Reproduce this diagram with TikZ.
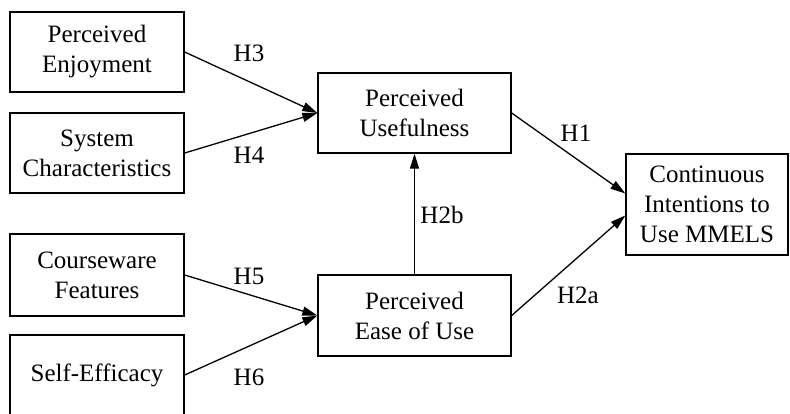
\documentclass[tikz,border=0pt]{standalone}
\usepackage{fontspec}
\setmainfont{Liberation Serif}
\usepackage{tikz}
\usetikzlibrary{arrows.meta}

\tikzset{
  factor/.style={draw, line width=1.3pt, align=center, inner sep=0pt},
  hyp/.style={line width=1.3pt, -{Triangle[length=15pt,width=9pt]}},
  hlabel/.style={inner sep=0pt}
}

\begin{document}
\begin{tikzpicture}[x=1pt,y=-1pt,font=\fontsize{25}{30}\selectfont]
\useasboundingbox (0,0) rectangle (790,413);
% left column
\node [factor, minimum width=174pt, minimum height=80pt] (enjoy) at (97,52) {Perceived\\Enjoyment};
\node [factor, minimum width=174pt, minimum height=80pt] (syst) at (97,153) {System\\Characteristics};
\node [factor, minimum width=174pt, minimum height=82pt] (course) at (97,275) {Courseware\\Features};
\node [factor, minimum width=174pt, minimum height=80pt] (selfeff) at (97,375) {Self-Efficacy};
% middle column
\node [factor, minimum width=193pt, minimum height=80pt] (useful) at (414.5,113) {Perceived\\Usefulness};
\node [factor, minimum width=193pt, minimum height=81pt] (ease) at (414.5,315.5) {Perceived\\Ease of Use};
% outcome
\node [factor, minimum width=162pt, minimum height=101pt] (intent) at (707,204.5) {Continuous\\Intentions to\\Use MMELS};
\draw [hyp] (enjoy.east) -- (useful.west);
\draw [hyp] (syst.east) -- (useful.west);
\draw [hyp] (course.east) -- (ease.west);
\draw [hyp] (selfeff.east) -- (ease.west);
\draw [hyp] (ease.north) -- (useful.south);
\draw [hyp] (useful.east) -- ([yshift=11pt]intent.west);
\draw [hyp] (ease.east) -- ([yshift=-11pt]intent.west);
\node [hlabel] (h3) at (249,53) {H3};
\node [hlabel] (h4) at (249,155) {H4};
\node [hlabel] (h5) at (249,276) {H5};
\node [hlabel] (h6) at (249,377) {H6};
\node [hlabel] (h1) at (576,133) {H1};
\node [hlabel] (h2a) at (578,295) {H2a};
\node [hlabel] (h2b) at (442,215) {H2b};
%\node at (707,300) {};
\end{tikzpicture}
\end{document}
